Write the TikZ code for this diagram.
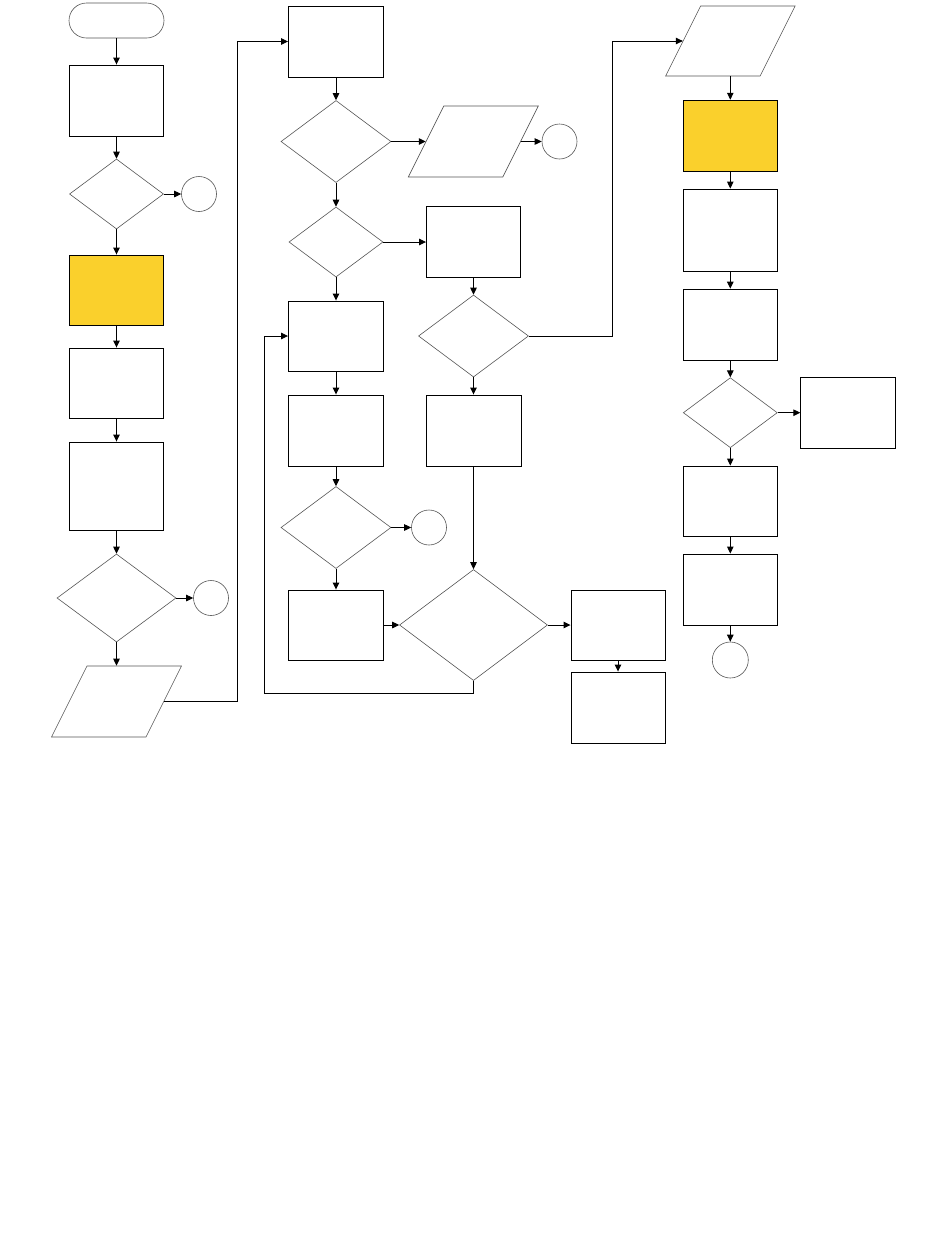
\documentclass[tikz,border=0pt]{standalone}
\usetikzlibrary{shapes.geometric,arrows.meta}
\definecolor{hl}{HTML}{FAD02C}
\definecolor{thin}{HTML}{555555}
\begin{document}
\begin{tikzpicture}[x=1pt,y=-1pt,
  box/.style={draw=black,line width=0.9pt,rectangle,inner sep=0pt,minimum width=94pt,minimum height=71pt},
  ybox/.style={box,fill=hl},
  dec/.style={draw=thin,line width=0.6pt,diamond,inner sep=0pt,minimum width=94pt,minimum height=70pt},
  conn/.style={draw=thin,line width=0.6pt,circle,inner sep=0pt,minimum size=35pt},
  io/.style={draw=thin,line width=0.6pt,rectangle,xslant=0.5,inner sep=0pt,minimum width=94.5pt,minimum height=71pt},
  term/.style={draw=thin,line width=0.6pt,rectangle,rounded corners=17.5pt,inner sep=0pt,minimum width=95pt,minimum height=35pt},
  arr/.style={draw=black,line width=0.9pt,-{Triangle[length=7pt,width=6.5pt]}}
]
\useasboundingbox (0,0) rectangle (950,1254);
% column 1
\node[term] (t0) at (116.5,20.5) {};
\node[box] (b1) at (116.5,100.5) {};
\node[dec] (d1) at (116.5,194) {};
\node[conn] (c1) at (199,194) {};
\node[ybox,minimum height=70pt] (y1) at (116.5,290) {};
\node[box,minimum height=70pt] (b2) at (116.5,383) {};
\node[box,minimum height=88pt] (b3) at (116.5,486) {};
\node[dec,minimum width=119pt,minimum height=88pt] (d2) at (116.5,598) {};
\node[conn] (c2) at (211,598) {};
\node[io] (p1) at (116.5,701.5) {};
% column 2
\node[box,minimum width=95pt] (b4) at (336,41.5) {};
\node[dec,minimum width=110pt,minimum height=82pt] (d3) at (336,141.5) {};
\node[io] (p2) at (473.3,141.5) {};
\node[conn] (c3) at (559.5,141.5) {};
\node[dec] (d4) at (336,242) {};
\node[box] (b5) at (473.5,242) {};
\node[dec,minimum width=110pt,minimum height=82pt] (d5) at (473.5,336) {};
\node[box,minimum width=95pt,minimum height=70pt] (b6) at (336,336) {};
\node[box,minimum width=95pt] (b7) at (336,430.5) {};
\node[box,minimum width=95pt] (b8) at (473.5,430.5) {};
\node[dec,minimum width=110pt,minimum height=82pt] (d6) at (336,527.5) {};
\node[conn] (c4) at (429,527.5) {};
\node[box,minimum width=95pt,minimum height=70pt] (b9) at (336,625) {};
\node[dec,minimum width=148pt,minimum height=111pt] (d7) at (473.5,625) {};
\node[box,minimum height=70pt] (b10) at (618,625) {};
\node[box] (b11) at (618,707.5) {};
% column 3
\node[io,minimum height=70pt] (p3) at (730.4,41) {};
\node[ybox] (y2) at (730.3,135.7) {};
\node[box,minimum height=82pt] (b12) at (730.3,230) {};
\node[box] (b13) at (730.3,324.6) {};
\node[dec] (d8) at (730.3,412.7) {};
\node[box,minimum width=95pt] (b14) at (848.3,412.7) {};
\node[box,minimum height=70pt] (b15) at (730.3,501) {};
\node[box] (b16) at (730.3,589.5) {};
\node[conn,minimum size=36pt] (c5) at (730.3,660) {};
% routing coordinates
\coordinate (r1) at (237,0);
\coordinate (r2) at (612,0);
\coordinate (lp) at (264,693);
% connectors column 1
\draw[arr] (t0.south) -- (b1.north);
\draw[arr] (b1.south) -- (d1.north);
\draw[arr] (d1.east) -- (c1.west);
\draw[arr] (d1.south) -- (y1.north);
\draw[arr] (y1.south) -- (b2.north);
\draw[arr] (b2.south) -- (b3.north);
\draw[arr] (b3.south) -- (d2.north);
\draw[arr] (d2.east) -- (c2.west);
\draw[arr] (d2.south) -- (d2.south |- p1.north);
\draw[arr] (p1.east) -- (p1.east -| r1) |- (b4.west);
% connectors column 2
\draw[arr] (b4.south) -- (d3.north);
\draw[arr] (d3.east) -- (p2.west);
\draw[arr] (p2.east) -- (c3.west);
\draw[arr] (d3.south) -- (d4.north);
\draw[arr] (d4.east) -- (b5.west);
\draw[arr] (d4.south) -- (b6.north);
\draw[arr] (b5.south) -- (d5.north);
\draw[arr] (d5.south) -- (b8.north);
\draw[arr] (d5.east) -- (d5.east -| r2) |- (p3.west);
\draw[arr] (b6.south) -- (b7.north);
\draw[arr] (b7.south) -- (d6.north);
\draw[arr] (d6.east) -- (c4.west);
\draw[arr] (d6.south) -- (b9.north);
\draw[arr] (b8.south) -- (d7.north);
\draw[arr] (b9.east) -- (d7.west);
\draw[arr] (d7.east) -- (b10.west);
\draw[arr] (b10.south) -- (b11.north);
\draw[arr] (d7.south) |- (lp) |- (b6.west);
% connectors column 3
\draw[arr] (y2.north |- p3.south) -- (y2.north);
\draw[arr] (y2.south) -- (b12.north);
\draw[arr] (b12.south) -- (b13.north);
\draw[arr] (b13.south) -- (d8.north);
\draw[arr] (d8.east) -- (b14.west);
\draw[arr] (d8.south) -- (b15.north);
\draw[arr] (b15.south) -- (b16.north);
\draw[arr] (b16.south) -- (c5.north);
\end{tikzpicture}
\end{document}
